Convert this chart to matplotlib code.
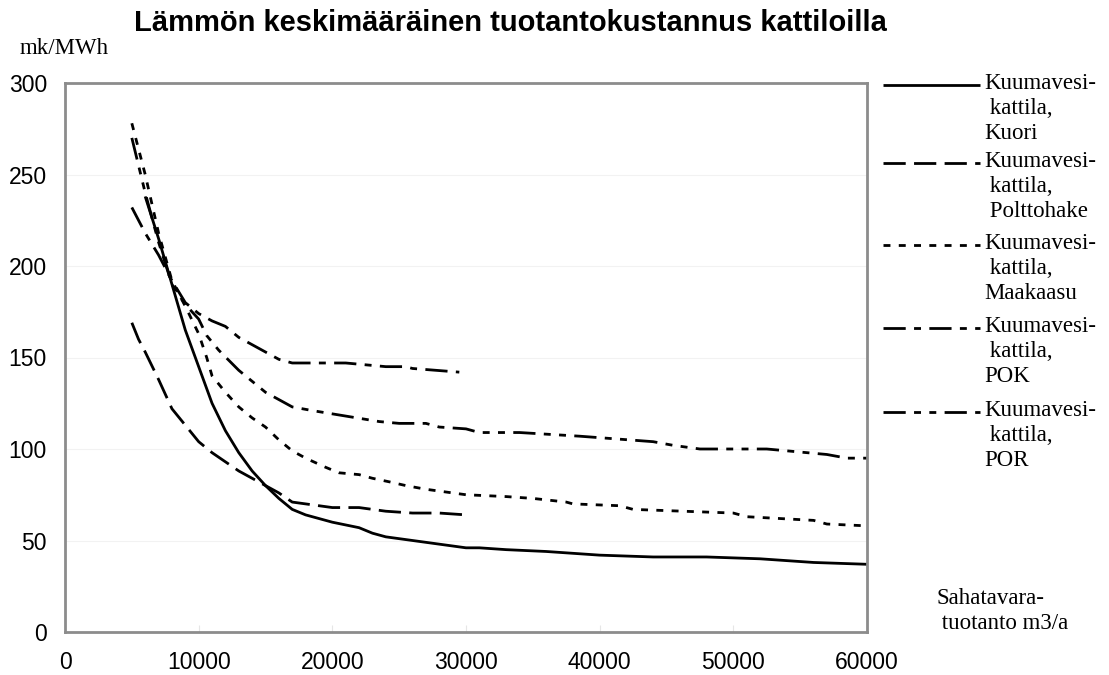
import matplotlib
matplotlib.use("Agg")
from matplotlib import pyplot as plt
from matplotlib.lines import Line2D

# data (x = sahatavaratuotanto m3/a, y = mk/MWh)
kuori_x = [6000, 7000, 8000, 9000, 10000, 11000, 12000, 13000, 14000, 15000, 16000, 17000, 18000,
           19000, 20000, 22000, 23000, 24000, 25000, 28000, 30000, 31000, 33000, 36000, 40000, 44000,
           48000, 52000, 56000, 60000]
kuori_y = [238, 215, 190, 165, 145, 125, 110, 98, 88, 80, 73, 67, 64,
           62, 60, 57, 54, 52, 51, 48, 46, 46, 45, 44, 42, 41,
           41, 40, 38, 37]

hake_x = [5000, 5500, 6000, 7000, 7500, 8000, 9000, 10000, 11000, 12000, 13000, 14000, 15000,
          16000, 17000, 18000, 20000, 22000, 24000, 26000, 28000, 30000]
hake_y = [169, 160, 153, 138, 130, 122, 113, 104, 98, 93, 88, 84, 80,
          76, 71, 70, 68, 68, 66, 65, 65, 64]

kaasu_x = [5000, 6000, 7000, 8000, 9000, 10000, 10600, 11000, 12000, 13000, 14000, 15000, 16000,
           17000, 18000, 19500, 20500, 22000, 23000, 24300, 25500, 27000, 29000, 30000, 33000,
           35000, 37500, 38000, 41500, 42500, 50000, 51000, 56000, 57000, 60000]
kaasu_y = [278, 250, 218, 192, 178, 163, 150, 140, 131, 123, 117, 112, 105,
           99, 95, 90, 87, 86, 84, 82, 80, 78, 76, 75, 74,
           73, 71, 70, 69, 67, 65, 63, 61, 59, 58]

pok_x = [5000, 6000, 7000, 8000, 9000, 10000, 11000, 12000, 13000, 14000, 15000, 16000, 17000,
         18000, 21000, 24000, 25500, 26000, 29500]
pok_y = [232, 218, 206, 192, 180, 174, 170, 167, 161, 157, 153, 149, 147,
         147, 147, 145, 145, 144, 142]

por_x = [5000, 6000, 7000, 8000, 9000, 10000, 10600, 11500, 13000, 14000, 15000, 17000, 18500,
         21000, 23500, 25000, 27000, 28000, 30000, 31000, 34000, 38500, 44000, 45500, 47500,
         52500, 57000, 58500, 60000]
por_y = [270, 240, 213, 190, 179, 171, 162, 154, 143, 137, 131, 123, 121,
         118, 115, 114, 114, 112, 111, 109, 109, 107, 104, 102, 100,
         100, 97, 95, 95]

names = ["Kuumavesi-\n kattila,\nKuori",
         "Kuumavesi-\n kattila,\n Polttohake",
         "Kuumavesi-\n kattila,\nMaakaasu",
         "Kuumavesi-\n kattila,\nPOK",
         "Kuumavesi-\n kattila,\nPOR"]

plt.rcParams['lines.scale_dashes'] = False

# dash patterns in points
styles = [(0, ()),
          (0, (16, 6)),
          (0, (5, 6)),
          (0, (16, 6, 5, 6)),
          (0, (16, 6, 5, 6, 5, 6))]

W, H = 1109, 675
fig = plt.figure(figsize=(W / 100, H / 100), dpi=100)
ax = fig.add_axes([65 / W, 1 - 632 / H, (867 - 65) / W, (632 - 83) / H])

series = [(kuori_x, kuori_y), (hake_x, hake_y), (kaasu_x, kaasu_y), (pok_x, pok_y), (por_x, por_y)]
for (xs, ys), ls in zip(series, styles):
    ax.plot(xs, ys, color="black", lw=2.0, linestyle=ls, solid_capstyle="butt", dash_capstyle="butt")

ax.set_xlim(0, 60000)
ax.set_ylim(0, 300)
ax.set_xticks(range(0, 60001, 10000))
ax.set_yticks(range(0, 301, 50))
for y in range(50, 300, 50):
    ax.axhline(y, color="#f2f2f2", lw=0.8, zorder=0)

for sp in ax.spines.values():
    sp.set_color("#8c8c8c")
    sp.set_linewidth(2)

ax.tick_params(axis="y", length=0, pad=13, labelsize=16.5)
ax.tick_params(axis="x", direction="in", length=5, color="#e6e6e6", pad=14, labelsize=16.5)
for lab in ax.get_xticklabels() + ax.get_yticklabels():
    lab.set_fontfamily("Liberation Sans")

serif = "Liberation Serif"
fig.text(510 / W, 1 - 23 / H, "Lämmön keskimääräinen tuotantokustannus kattiloilla",
         ha="center", va="center", fontsize=21, fontweight="bold", family="Liberation Sans")
fig.text(20 / W, 1 - 48 / H, "mk/MWh", ha="left", va="center", fontsize=16.5, family=serif)
fig.text(936 / W, 1 - 611 / H, "Sahatavara-\n tuotanto m3/a", ha="left", va="center",
         fontsize=16.5, family=serif, linespacing=1.2)

# legend drawn by hand: handle beside the first text line
entry_y = [85, 163, 245, 328, 412]
for name, ls, ey in zip(names, styles, entry_y):
    fig.add_artist(Line2D([883 / W, 980 / W], [1 - ey / H, 1 - ey / H], color="black", lw=2.0,
                          linestyle=ls, transform=fig.transFigure, dash_capstyle="butt"))
    fig.text(984 / W, 1 - (ey - 12) / H, name, ha="left", va="top", fontsize=16.5,
             family=serif, linespacing=1.25)

fig.savefig("out.png", dpi=100)
